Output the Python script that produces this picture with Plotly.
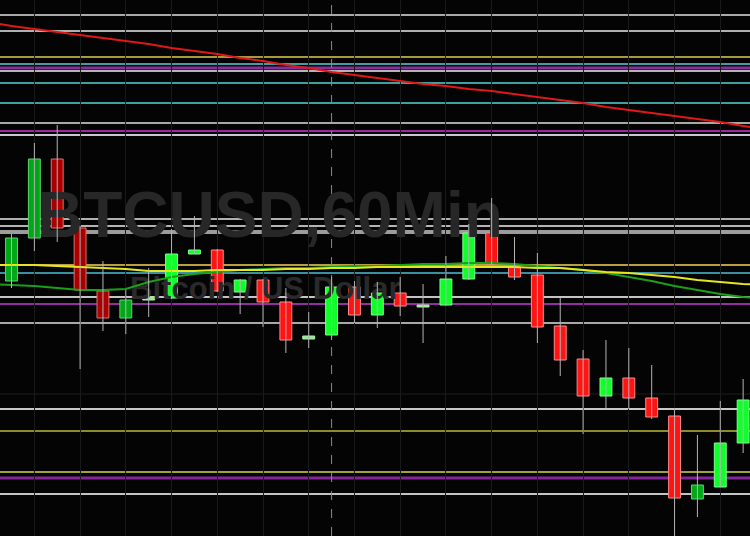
import plotly.graph_objects as go

# ---------------- data ----------------
idx = list(range(33))
opens = [37438, 37524, 37682, 37544, 37418, 37364, 37400, 37404, 37492, 37500, 37416,
         37440, 37396, 37322, 37330, 37426, 37370, 37414, 37386, 37390, 37442, 37534,
         37466, 37450, 37348, 37282, 37208, 37244, 37204, 37168, 37002, 37026, 37114]
highs = [37532, 37714, 37750, 37548, 37478, 37420, 37464, 37542, 37568, 37502, 37442,
         37442, 37424, 37376, 37446, 37438, 37436, 37446, 37432, 37488, 37552, 37604,
         37526, 37494, 37406, 37300, 37320, 37304, 37270, 37184, 37130, 37198, 37242]
lows = [37424, 37498, 37516, 37262, 37338, 37332, 37366, 37402, 37492, 37416, 37372,
        37346, 37294, 37304, 37320, 37354, 37344, 37368, 37314, 37388, 37440, 37468,
        37440, 37314, 37248, 37132, 37182, 37182, 37162, 36910, 36966, 37026, 37094]
closes = [37524, 37682, 37544, 37420, 37364, 37400, 37406, 37492, 37500, 37418, 37440,
          37396, 37320, 37328, 37426, 37370, 37414, 37388, 37390, 37442, 37534, 37472,
          37446, 37346, 37280, 37208, 37244, 37204, 37166, 37004, 37030, 37114, 37200]
# candle colour style: G bright green, g dark green, p pale green, R bright red, r dark red
styles = ["g", "g", "r", "r", "r", "g", "p", "G", "G", "R", "G", "R", "R", "p", "G", "R",
          "G", "R", "p", "G", "G", "R", "R", "R", "R", "R", "G", "R", "R", "R", "g", "G", "G"]

ma_x = list(range(-1, 34))
ma_yellow = [37470, 37470, 37470, 37468, 37466, 37464, 37462, 37458, 37458, 37458, 37460,
             37460, 37460, 37462, 37462, 37464, 37464, 37466, 37466, 37466, 37466, 37466,
             37466, 37466, 37464, 37464, 37460, 37456, 37454, 37450, 37446, 37440, 37436,
             37432, 37430]
ma_green = [37432, 37430, 37428, 37424, 37420, 37420, 37422, 37436, 37446, 37452, 37456,
            37460, 37462, 37464, 37464, 37466, 37468, 37468, 37470, 37472, 37472, 37474,
            37474, 37472, 37468, 37464, 37460, 37454, 37446, 37438, 37428, 37420, 37412,
            37406, 37402]
ma_red = [37956, 37948, 37942, 37936, 37930, 37924, 37918, 37912, 37904, 37898, 37892,
          37884, 37878, 37870, 37864, 37856, 37850, 37844, 37838, 37832, 37828, 37822,
          37818, 37812, 37806, 37800, 37794, 37786, 37780, 37774, 37768, 37762, 37756,
          37748, 37742]

levels = [37970, 37938, 37886, 37872, 37864, 37858, 37834, 37794, 37754, 37738, 37730,
          37562, 37548, 37536, 37470, 37454, 37406, 37392, 37354, 37212, 37182, 37138,
          37056, 37044, 37012]
level_colors = ["#a8a8a8", "#b0b0b0", "#a89a3a", "#3f9fa0", "#8a2e9e", "#b4b4b4", "#3fa0a0",
                "#3fa0a0", "#a8a8a8", "#9a2a9a", "#c8c4dc", "#b0b0b0", "#b4b4b4", "#9c9c9c",
                "#b8a040", "#3a90a0", "#c4c4c4", "#922e9e", "#a8a8a8", "#1e1e1e", "#c8c8c8",
                "#8c8c28", "#a0a038", "#86249e", "#c4c4c4"]
level_widths = [2, 2, 2, 2, 3, 2, 2, 2, 2, 2, 2, 2, 2, 4, 2, 2, 2, 2, 2, 1, 2, 2, 2, 3, 2]

crosshair_x = 14
title_text = "BTCUSD,60Min"
subtitle_text = "Bitcoin / US Dollar"
title_pos = (11.3, 37558)
subtitle_pos = (11.1, 37418)

# ---------------- styling ----------------
fill_map = {"G": "#10ff2a", "g": "#00a818", "p": "#8ee88e", "R": "#ff1414", "r": "#a80000"}
edge_map = {"G": "#80ff90", "g": "#60d070", "p": "#b0f0b0", "R": "#ff8a8a", "r": "#e07070"}

fig = go.Figure()

# watermark (drawn first so it sits beneath everything)
fig.add_trace(go.Scatter(x=[title_pos[0]], y=[title_pos[1]], mode="text",
                         text=["<b>" + title_text + "</b>"], textposition="middle center",
                         textfont=dict(family="Liberation Sans, Arial", size=64,
                                       color="#272727"), hoverinfo="skip"))
fig.add_trace(go.Scatter(x=[subtitle_pos[0]], y=[subtitle_pos[1]], mode="text",
                         text=["<b>" + subtitle_text + "</b>"], textposition="middle center",
                         textfont=dict(family="Liberation Sans, Arial", size=31,
                                       color="#2a2a2a"), hoverinfo="skip"))

# moving averages
fig.add_trace(go.Scatter(x=ma_x, y=ma_red, mode="lines",
                         line=dict(color="#e01818", width=2), hoverinfo="skip"))
fig.add_trace(go.Scatter(x=ma_x, y=ma_green, mode="lines",
                         line=dict(color="#1aa01a", width=2), hoverinfo="skip"))
fig.add_trace(go.Scatter(x=ma_x, y=ma_yellow, mode="lines",
                         line=dict(color="#e6e620", width=2), hoverinfo="skip"))

# wicks
wx, wy = [], []
for i, h, l in zip(idx, highs, lows):
    wx += [i, i, None]
    wy += [l, h, None]
fig.add_trace(go.Scatter(x=wx, y=wy, mode="lines",
                         line=dict(color="#b4b4b4", width=1), hoverinfo="skip"))

# bodies
bases = [min(o, c) for o, c in zip(opens, closes)]
heights = [max(abs(c - o), 3) for o, c in zip(opens, closes)]
fig.add_trace(go.Bar(x=idx, y=heights, base=bases, width=0.52,
                     marker=dict(color=[fill_map[s] for s in styles],
                                 line=dict(color=[edge_map[s] for s in styles], width=1)),
                     hoverinfo="skip"))

shapes = []
for lv, col, w in zip(levels, level_colors, level_widths):
    shapes.append(dict(type="line", xref="paper", x0=0, x1=1, yref="y", y0=lv, y1=lv,
                       line=dict(color=col, width=w), layer="below"))
shapes.append(dict(type="line", xref="x", x0=crosshair_x, x1=crosshair_x, yref="paper",
                   y0=0, y1=1, line=dict(color="#8a8a8a", width=1, dash="dash"),
                   layer="below"))

fig.update_layout(
    width=750, height=536, margin=dict(l=0, r=0, t=0, b=0),
    paper_bgcolor="#040404", plot_bgcolor="#040404",
    showlegend=False, barmode="overlay",
    shapes=shapes,
    xaxis=dict(range=[-0.503, 32.3], showticklabels=False, zeroline=False,
               showline=False, showgrid=True, gridcolor="#1a1a1a", gridwidth=1,
               tick0=1, dtick=2, fixedrange=True),
    yaxis=dict(range=[36928, 38000], showticklabels=False, zeroline=False,
               showline=False, showgrid=False, fixedrange=True),
)

fig.write_html("out.html", config={"displayModeBar": False},
               post_script="document.body.style.margin='0';document.body.style.background='#040404';")
